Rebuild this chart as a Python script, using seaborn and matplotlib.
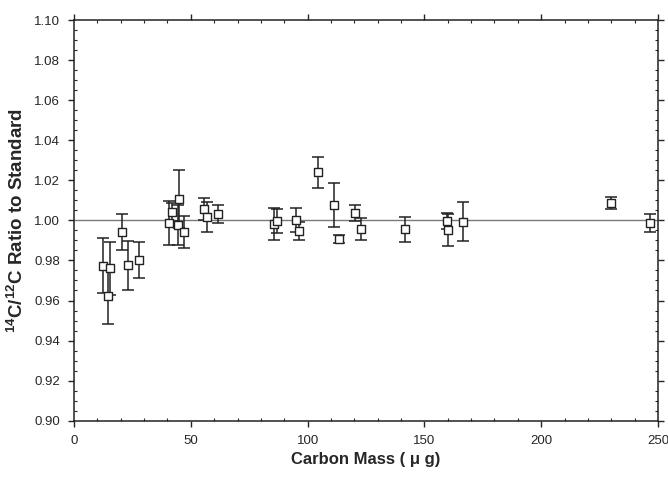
import matplotlib
matplotlib.use('Agg')
import matplotlib.pyplot as plt
import numpy as np
import pandas as pd
import seaborn as sns
from matplotlib.ticker import MultipleLocator

# Data
carbon_mass = [12.5, 14.4, 15.4, 20.4, 23.0, 28.0,
               40.7, 42.1, 44.7, 45.0, 47.2,
               55.8, 57.1, 61.5,
               85.8, 87.1, 95.1, 96.5,
               104.4, 111.1, 113.6, 120.3, 122.8,
               141.8, 159.6, 160.0, 166.7,
               230.0, 246.7]
ratio = [0.9773, 0.9623, 0.9761, 0.9941, 0.9776, 0.9803,
         0.9989, 1.0042, 0.9978, 1.0106, 0.9944,
         1.0057, 1.0016, 1.0031,
         0.9983, 0.9999, 1.0003, 0.9949,
         1.0239, 1.0077, 0.9906, 1.0039, 0.9958,
         0.9956, 0.9997, 0.9953, 0.9994,
         1.0086, 0.9986]
ratio_err = [0.0138, 0.0140, 0.0133, 0.0090, 0.0122, 0.0090,
             0.0110, 0.0047, 0.0100, 0.0143, 0.0080,
             0.0057, 0.0075, 0.0045,
             0.0080, 0.0060, 0.0060, 0.0045,
             0.0077, 0.0110, 0.0020, 0.0040, 0.0055,
             0.0062, 0.0040, 0.0080, 0.0097,
             0.0030, 0.0045]

df = pd.DataFrame({'mass': carbon_mass, 'ratio': ratio, 'err': ratio_err})

sns.set_style('ticks')
plt.rcParams['font.family'] = ['Liberation Sans', 'DejaVu Sans']
plt.rcParams['mathtext.fontset'] = 'custom'
plt.rcParams['mathtext.rm'] = 'Liberation Sans:bold'
plt.rcParams['mathtext.bf'] = 'Liberation Sans:bold'
plt.rcParams['mathtext.default'] = 'bf'

fig = plt.figure(figsize=(6.68, 4.79), dpi=100)
ax = fig.add_axes([0.1108, 0.1217, 0.8742, 0.8365])

# reference line at the standard
ax.axhline(1.0, color='#7a7a7a', linewidth=1.0, zorder=1)

ax.errorbar(df['mass'], df['ratio'], yerr=df['err'], fmt='none',
            ecolor='#222222', elinewidth=1.1, capsize=4.5, capthick=1.1, zorder=2)
sns.scatterplot(data=df, x='mass', y='ratio', ax=ax, marker='s', s=40,
                facecolor='white', edgecolor='#222222', linewidth=1.0, zorder=3)

ax.set_xlim(0, 250)
ax.set_ylim(0.90, 1.10)
ax.xaxis.set_major_locator(MultipleLocator(50))
ax.xaxis.set_minor_locator(MultipleLocator(10))
ax.yaxis.set_major_locator(MultipleLocator(0.02))
ax.yaxis.set_minor_locator(MultipleLocator(0.005))
ax.yaxis.set_major_formatter(matplotlib.ticker.FormatStrFormatter('%.2f'))

ax.tick_params(which='major', direction='out', length=4, width=1,
               labelsize=9.5, top=True, right=True, pad=6)
ax.tick_params(which='minor', direction='in', length=2.5, width=0.8,
               top=True, right=True)
for side in ['left', 'right', 'top', 'bottom']:
    ax.spines[side].set_linewidth(1.1)
    ax.spines[side].set_color('#222222')

ax.set_xlabel('Carbon Mass ( \u03bc g)', fontsize=12, fontweight='bold', labelpad=4)
ax.set_ylabel(r'$^{14}$C/$^{12}$C Ratio to Standard', fontsize=13.5,
              fontweight='bold', labelpad=5)

fig.savefig('out.png', dpi=100)
